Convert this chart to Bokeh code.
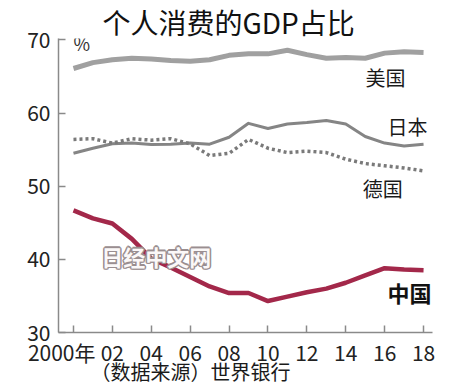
from bokeh.plotting import figure
from bokeh.models import Range1d, FixedTicker, Label, Title
from bokeh.embed import file_html
from bokeh.resources import INLINE

years = list(range(2000, 2019))
usa = [66.1, 66.9, 67.3, 67.5, 67.4, 67.2, 67.1, 67.3, 67.9, 68.1, 68.1, 68.6, 68.0, 67.5, 67.6, 67.5, 68.2, 68.4, 68.3]
japan = [54.5, 55.2, 55.8, 55.9, 55.7, 55.75, 55.9, 55.75, 56.7, 58.6, 57.9, 58.5, 58.7, 59.0, 58.5, 56.8, 55.9, 55.5, 55.75]
germany = [56.4, 56.5, 55.9, 56.5, 56.3, 56.5, 55.8, 54.2, 54.5, 56.4, 55.2, 54.6, 54.8, 54.6, 53.7, 53.1, 52.8, 52.5, 52.1]
china = [46.7, 45.6, 44.9, 42.8, 40.1, 38.9, 37.6, 36.3, 35.4, 35.4, 34.3, 34.9, 35.5, 36.0, 36.8, 37.8, 38.8, 38.6, 38.5]

x_ticks = [2000, 2002, 2004, 2006, 2008, 2010, 2012, 2014, 2016, 2018]
x_tick_labels = ["2000年" + "\u00a0" * 5, "02", "04", "06", "08", "10", "12", "14", "16", "18"]
y_ticks = [30, 40, 50, 60, 70]

title_text = "个人消费的GDP占比"
source_text = "（数据来源）世界银行"
watermark = "日经中文网"

NUM_FONT = "Liberation Sans Narrow, Noto Sans CJK SC"
CJK_FONT = "Noto Sans CJK SC"

p = figure(width=450, height=390, output_backend="svg", toolbar_location=None,
           x_range=Range1d(1999.23, 2018.46), y_range=Range1d(30, 70.2),
           min_border_left=58, min_border_right=18, min_border_top=38, min_border_bottom=58)
p.outline_line_color = None
p.xgrid.grid_line_color = None
p.ygrid.grid_line_color = None
p.background_fill_color = "white"
p.border_fill_color = "white"

p.title.text = title_text
p.title.align = "left"
p.title.offset = 44
p.title.standoff = -6
p.title.text_font = CJK_FONT
p.title.text_font_size = "28px"
p.title.text_font_style = "normal"
p.title.text_color = "#111111"

p.add_layout(Title(text=source_text, align="left", offset=32, text_font=CJK_FONT,
                   text_font_size="20px", text_font_style="normal", text_color="#1a1a1a",
                   vertical_align="top", standoff=-26), "below")

for ax in (p.xaxis[0], p.yaxis[0]):
    ax.axis_line_color = "#8a8a8a"
    ax.axis_line_width = 1.5
    ax.major_tick_line_color = "#8a8a8a"
    ax.major_tick_line_width = 1.5
    ax.major_tick_out = 0
    ax.major_tick_in = 7
    ax.minor_tick_line_color = None
    ax.major_label_text_font = NUM_FONT
    ax.major_label_text_font_size = "21px"
    ax.major_label_text_color = "#222222"

p.xaxis.ticker = FixedTicker(ticks=x_ticks)
p.xaxis.major_label_overrides = {t: l for t, l in zip(x_ticks, x_tick_labels)}
p.xaxis.major_label_standoff = 4
p.yaxis.ticker = FixedTicker(ticks=y_ticks)
p.yaxis.major_label_standoff = 8

p.line(years, usa, line_color="#a0a0a0", line_width=5, line_join="round")
p.line(years, japan, line_color="#858585", line_width=3, line_join="round")
p.line(years, germany, line_color="#7a7a7a", line_width=3.5, line_dash="3 3")
p.line(years, china, line_color="#a3284a", line_width=4.5, line_join="round")

# watermark (outlined)
for dx, dy in [(-1.5, 0), (1.5, 0), (0, -1.5), (0, 1.5), (-1, -1), (1, 1), (-1, 1), (1, -1)]:
    p.add_layout(Label(x=2004.25, y=40.5, text=watermark, text_align="center", text_baseline="middle",
                       text_font=CJK_FONT, text_font_size="22px", text_font_style="bold",
                       text_color="#9a8e90", x_offset=dx, y_offset=dy))
p.add_layout(Label(x=2004.25, y=40.5, text=watermark, text_align="center", text_baseline="middle",
                   text_font=CJK_FONT, text_font_size="22px", text_font_style="bold",
                   text_color="#fbf8f8"))

def lab(x, y, t, size="20px", style="normal", color="#1a1a1a", font=CJK_FONT, align="left"):
    p.add_layout(Label(x=x, y=y, text=t, text_align=align, text_baseline="middle",
                       text_font=font, text_font_size=size, text_font_style=style, text_color=color))

lab(2015.02, 64.9, "美国")
lab(2016.15, 58.1, "日本")
lab(2014.87, 49.7, "德国")
lab(2016.15, 35.5, "中国", size="22px", style="bold", color="#111111")
lab(2000.0, 69.6, "%", size="18px", font=NUM_FONT, color="#333333")

open("out.html", "w").write(file_html(p, INLINE))
